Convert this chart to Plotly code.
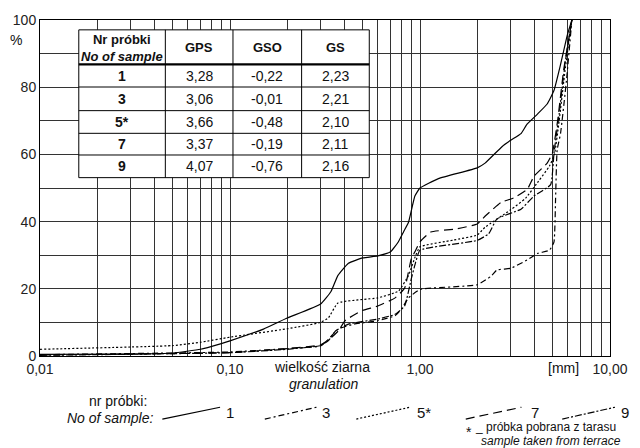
import plotly.graph_objects as go

# ---------------- data ----------------
x1 = [0.01, 0.03, 0.05, 0.07, 0.09, 0.1, 0.15, 0.2, 0.3, 0.34, 0.37, 0.42, 0.5, 0.6, 0.7, 0.77, 0.82, 0.87, 0.94, 1.0, 1.25, 2.0, 2.2, 2.7, 3.0, 3.4, 3.66, 4.15, 4.67, 5.07, 5.49, 5.96, 6.3]
y1 = [0.5, 0.6, 0.9, 2.0, 3.7, 4.5, 8.0, 11.3, 15.5, 19.2, 24.0, 27.6, 29.2, 29.8, 31.0, 34.0, 37.0, 39.8, 47.6, 50.0, 52.8, 56.0, 57.4, 62.3, 64.2, 66.2, 69.0, 72.0, 75.0, 79.0, 86.7, 95.5, 100]

x3 = [0.01, 0.1, 0.2, 0.3, 0.33, 0.37, 0.45, 0.6, 0.74, 0.8, 0.87, 1.0, 2.0, 2.36, 2.54, 3.0, 3.67, 4.15, 4.8, 5.07, 5.17, 5.27, 5.49, 5.9, 6.3]
y3 = [0.4, 1.2, 2.2, 3.0, 5.0, 8.0, 9.5, 10.5, 12.0, 14.0, 17.3, 19.8, 21.2, 23.7, 25.6, 26.1, 28.6, 30.5, 31.5, 33.9, 46.6, 61.3, 66.2, 82.0, 100]

x5 = [0.01, 0.05, 0.07, 0.1, 0.2, 0.3, 0.33, 0.37, 0.6, 0.77, 0.87, 0.95, 1.0, 1.5, 2.0, 2.2, 3.0, 3.6, 4.2, 4.8, 5.1, 5.4, 5.8, 6.3]
y5 = [2.0, 3.1, 4.1, 5.6, 8.1, 10.0, 11.4, 15.8, 17.3, 19.3, 24.0, 30.0, 32.5, 34.5, 36.0, 38.3, 43.5, 47.0, 52.0, 56.5, 60.0, 70.0, 85.0, 100]

x7 = [0.01, 0.1, 0.2, 0.3, 0.343, 0.372, 0.403, 0.49, 0.6, 0.74, 0.83, 0.9, 0.94, 1.0, 1.14, 1.54, 2.0, 2.22, 2.67, 3.13, 3.67, 3.98, 4.67, 4.97, 5.3, 5.7, 6.3]
y7 = [0.3, 1.0, 2.2, 3.3, 5.6, 7.5, 10.5, 13.4, 14.9, 17.3, 20.2, 29.0, 31.0, 34.0, 36.9, 37.8, 39.3, 41.8, 45.7, 47.1, 49.6, 53.5, 57.4, 60.3, 70.0, 85.0, 100]

x9 = [0.01, 0.1, 0.2, 0.3, 0.33, 0.36, 0.42, 0.6, 0.74, 0.83, 0.9, 0.95, 1.0, 2.0, 2.3, 2.54, 3.4, 3.98, 4.87, 5.07, 5.4, 5.8, 6.3]
y9 = [0.2, 1.0, 2.0, 3.1, 4.6, 7.5, 9.5, 11.0, 12.4, 14.9, 23.0, 28.0, 31.5, 34.4, 36.4, 40.8, 43.7, 47.6, 51.0, 60.3, 72.0, 87.0, 100]

samples = ["1", "3", "5*", "7", "9"]
gps = ["3,28", "3,06", "3,66", "3,37", "4,07"]
gso = ["-0,22", "-0,01", "-0,48", "-0,19", "-0,76"]
gs = ["2,23", "2,21", "2,10", "2,11", "2,16"]

x_tick_vals = [0.01, 0.1, 1, 10]
x_tick_text = ["0,01", "0,10", "1,00", "10,00"]
y_tick_vals = [0, 20, 40, 60, 80, 100]

# ---------------- layout helpers ----------------
W, H = 640, 448
L, R, T, B = 40, 27, 15, 92
PW, PH = W - L - R, H - T - B


def px(x):
    return (x - L) / PW


def py(y):
    return (H - B - y) / PH


FONT = "Liberation Sans, Arial, sans-serif"

dashes = {
    "1": "solid",
    "3": "6px,3px,2px,3px",
    "5*": "2px,2px",
    "7": "9px,5px",
    "9": "7px,2px,2px,2px",
}

fig = go.Figure()
series = [("1", x1, y1), ("3", x3, y3), ("5*", x5, y5), ("7", x7, y7), ("9", x9, y9)]
for name, xs, ys in series:
    fig.add_trace(go.Scatter(
        x=xs, y=ys, mode="lines", name=name,
        line=dict(color="black", width=1.2, dash=dashes[name], shape="spline", smoothing=0.4),
        showlegend=False, hoverinfo="skip",
    ))

# full gridline sets
xgrid = []
for dec in [0.01, 0.1, 1]:
    for k in range(1, 10):
        xgrid.append(round(dec * k, 4))
xgrid.append(10)
xtext = [x_tick_text[x_tick_vals.index(v)] if v in x_tick_vals else "" for v in xgrid]

ygrid = list(range(0, 101, 10))
ytext = [str(v) if v in y_tick_vals else "" for v in ygrid]

fig.update_xaxes(
    type="log", range=[-2, 1], tickvals=xgrid, ticktext=xtext,
    showgrid=True, gridcolor="#333333", gridwidth=1,
    showline=True, linecolor="black", linewidth=1, mirror=True,
    ticks="", zeroline=False, tickfont=dict(size=14, color="#222"),
)
fig.update_yaxes(
    range=[0, 100], tickvals=ygrid, ticktext=ytext,
    showgrid=True, gridcolor="#333333", gridwidth=1,
    showline=True, linecolor="black", linewidth=1, mirror=True,
    ticks="", zeroline=False, tickfont=dict(size=14, color="#222"),
)

shapes = []
ann = []

# ---- table ----
tl, tr, tt, tb = 79, 371, 25, 175
cols = [79, 166, 234, 303, 371]
rows = [25, 60, 83, 107, 130, 152, 175]
shapes.append(dict(type="rect", xref="paper", yref="paper", x0=px(tl), x1=px(tr), y0=py(tb), y1=py(tt),
                   fillcolor="white", line=dict(color="black", width=1), layer="above"))
for c in cols[1:-1]:
    shapes.append(dict(type="line", xref="paper", yref="paper", x0=px(c), x1=px(c), y0=py(tb), y1=py(tt),
                       line=dict(color="black", width=1), layer="above"))
for i, r in enumerate(rows[1:-1]):
    shapes.append(dict(type="line", xref="paper", yref="paper", x0=px(tl), x1=px(tr), y0=py(r), y1=py(r),
                       line=dict(color="black", width=2.2 if i == 0 else 1), layer="above"))

ccx = [(cols[i] + cols[i + 1]) / 2 for i in range(4)]
rcy = [(rows[i] + rows[i + 1]) / 2 for i in range(6)]


def text(x, y, s, size=14, xanchor="center", color="#111"):
    ann.append(dict(xref="paper", yref="paper", x=px(x), y=py(y), text=s, showarrow=False,
                    xanchor=xanchor, yanchor="middle", font=dict(size=size, family=FONT, color=color)))


text(ccx[0], rcy[0] + 0.5, "<b>Nr próbki</b><br><b><i>No of sample</i></b>", size=13)
text(ccx[1], rcy[0], "<b>GPS</b>", size=13)
text(ccx[2], rcy[0], "<b>GSO</b>", size=13)
text(ccx[3], rcy[0], "<b>GS</b>", size=13)
for i in range(5):
    text(ccx[0], rcy[i + 1], "<b>" + samples[i] + "</b>")
    text(ccx[1], rcy[i + 1], gps[i])
    text(ccx[2], rcy[i + 1], gso[i])
    text(ccx[3], rcy[i + 1], gs[i])

# ---- axis texts ----
text(16, 35, "%", size=14)
text(323, 367, "wielkość ziarna", size=14)
text(325, 384, "<i>granulation</i>", size=14)
text(566, 368, "[mm]", size=14)

# ---- legend ----
text(150, 402, "nr próbki:", size=14, xanchor="right")
text(156, 419, "<i>No of sample:</i>", size=14, xanchor="right")
leg = [("1", 163, 221, 231), ("3", 266, 318, 328), ("5*", 358, 412, 426), ("7", 468, 524, 538), ("9", 565, 618, 628)]
for name, a, b, t in leg:
    shapes.append(dict(type="line", xref="paper", yref="paper", x0=px(a), x1=px(b), y0=py(420), y1=py(408),
                       line=dict(color="black", width=1.2, dash=dashes[name]))
                  )
    text(t, 413, name, size=15)
text(471, 433, "*", size=14)
text(481, 428, "_", size=12)
text(621, 428, "próbka pobrana z tarasu", size=12, xanchor="right")
text(626, 442, "<i>sample taken from terrace</i>", size=12, xanchor="right")

fig.update_layout(
    width=W, height=H, margin=dict(l=L, r=R, t=T, b=B),
    paper_bgcolor="white", plot_bgcolor="white",
    font=dict(family=FONT, size=14, color="#222"),
    shapes=shapes, annotations=ann, showlegend=False,
)

fig.write_html("out.html", config={"displayModeBar": False},
               post_script="document.body.style.margin='0';document.body.style.overflow='hidden';")
